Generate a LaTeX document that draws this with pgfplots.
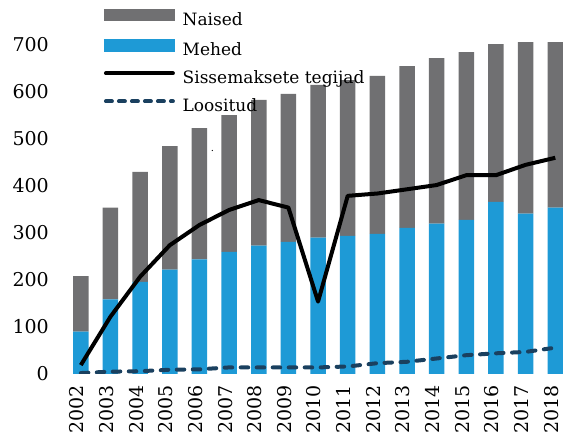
\documentclass[border=0pt]{standalone}
\usepackage{fontspec}
\setmainfont{DejaVu Serif}
\usepackage{pgfplots}
\usepackage{pgfplotstable}
\pgfplotsset{compat=1.18}
\definecolor{naised}{RGB}{112,112,114}
\definecolor{mehed}{RGB}{30,154,214}
\definecolor{loos}{RGB}{26,64,95}

\pgfplotstableread{
year mehed naised sisse loos
2002 90 118 19 2
2003 159 195 122 5
2004 196 234 207 6
2005 222 263 274 9
2006 244 279 317 10
2007 260 291 349 14
2008 273 310 370 14
2009 281 315 354 14
2010 290 325 154 14
2011 294 331 379 16
2012 298 336 384 23
2013 311 344 393 26
2014 320 352 402 33
2015 328 357 423 40
2016 366 336 423 44
2017 341 365 445 47
2018 354 352 460 56
}\datatable

\pgfplotsset{
  common/.style={
    at={(0,0)}, anchor=south west,
    scale only axis, width=505pt, height=374pt,
    xmin=2001.23, xmax=2018.26,
    ymin=0, ymax=795.7,
    axis line style={draw=none},
    major tick length=0pt,
    /pgf/number format/assume math mode=true,
    /pgf/number format/1000 sep={},
  }
}

\begin{document}
\begin{tikzpicture}
\begin{axis}[common,
  ybar stacked, bar width=15.5pt,
  xtick={2002,2003,...,2018},
  ytick={0,100,...,700},
  xticklabel style={xshift=-4pt, rotate=90, anchor=east, inner sep=0pt, font=\fontsize{19}{19}\selectfont},
  xticklabel shift={11pt},
  yticklabel style={anchor=east, inner sep=0pt, xshift=-9pt, font=\fontsize{19}{19}\selectfont},
]
\addplot[fill=mehed, draw=none] table[x=year, y=mehed] {\datatable};
\addplot[fill=naised, draw=none] table[x=year, y=naised] {\datatable};
\end{axis}
\begin{axis}[common,
  xtick=\empty, ytick=\empty,
  legend style={draw=none, fill=none, at={(0.0782,0.977)}, anchor=north west,
    inner sep=0pt, row sep=8pt, column sep=0pt,
    nodes={inner sep=1.5pt, text height=13pt, text depth=4pt},
    font=\fontsize{17}{17}\selectfont},
  legend cell align=left,
]
\addplot[loos, line width=4pt, dash pattern=on 7.5pt off 8.5pt, line cap=round, forget plot]
  table[x=year, y=loos] {\datatable};
\addplot[black, line width=4pt, line join=round, forget plot]
  table[x=year, y=sisse] {\datatable};
\node[font=\fontsize{10}{10}\selectfont, inner sep=0pt] at (axis cs:2006.44,474) {.};
\addlegendimage{legend image code/.code={\draw[naised, line width=12.5pt] (0pt,6pt) -- (71pt,6pt);}}
\addlegendentry{Naised}
\addlegendimage{legend image code/.code={\draw[mehed, line width=12.5pt] (0pt,6pt) -- (71pt,6pt);}}
\addlegendentry{Mehed}
\addlegendimage{legend image code/.code={\draw[black, line width=4pt, line cap=round] (2pt,6pt) -- (69pt,6pt);}}
\addlegendentry{Sissemaksete tegijad}
\addlegendimage{legend image code/.code={\draw[loos, line width=4pt, line cap=round, dash pattern=on 6pt off 7pt] (2pt,6pt) -- (69pt,6pt);}}
\addlegendentry{Loositud}
\end{axis}
\pgfresetboundingbox
\useasboundingbox (-58pt,-65pt) rectangle (505pt,374pt);
\end{tikzpicture}
\end{document}
